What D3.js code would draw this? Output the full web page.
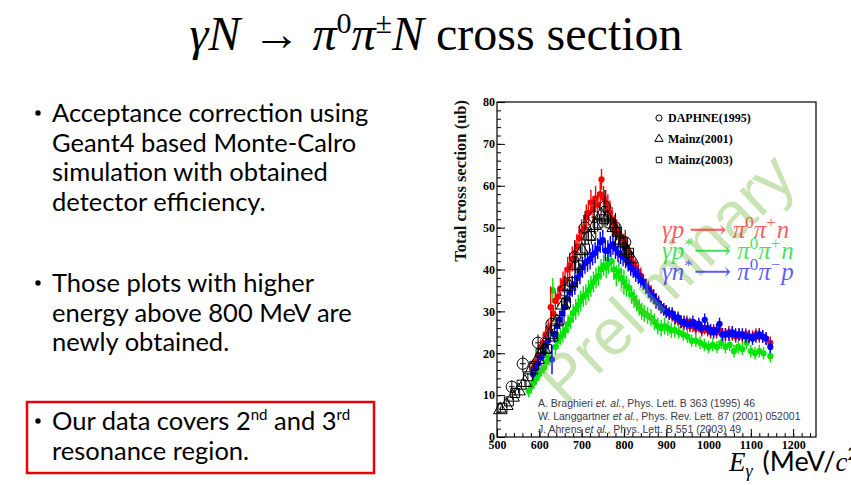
<!doctype html>
<html lang="en">
<head>
<meta charset="utf-8">
<title>cross section</title>
<script src="https://d3js.org/d3.v7.min.js"></script>
<style>
  body { margin: 0; background: #fff; }
  svg { display: block; }
</style>
</head>
<body>
<svg id="slide" width="851" height="485"></svg>
<script>
// [E (MeV), sigma (ub), error]
var redPts = [[586,16.5,1.5],[591,18,1.5],[597,19.5,1.5],[603,21.5,1.8],[609,22.5,1.8],[615,24.5,2],[621,26,2],[627,31,5],[633,29.5,2],[638,32.5,2.2],[644,33.5,2.2],[650,35.5,2.5],[656,37,2.5],[661,37.5,3],[667,40,3],[672,41,3],[678,42.5,3],[684,44,3],[689,45.5,3],[694,47.5,3],[700,49,3],[705,50,3],[711,52.5,3],[716,53.5,3],[722,56,3],[727,54.5,3],[733,57,3],[738,55.5,3],[744,58,3],[747,61.5,2.5],[752,57,3],[757,56,3],[762,55,3],[767,53.5,3],[772,52,3],[778,50.5,2.5],[783,49.5,2.5],[789,48.5,2.5],[794,47.5,2.5],[800,46,2.5],[806,45,2.5],[811,44,2],[817,42.5,2],[822,41.5,2],[828,40.5,2],[834,39.5,2],[840,38.5,2],[846,37,1.8],[852,36,1.8],[858,35.5,1.8],[864,34.5,1.8],[870,33.5,1.8],[876,32.5,1.8],[882,32,1.8],[888,31,1.5],[894,30.5,1.5],[900,30,1.5],[907,29.5,1.5],[914,29,1.5],[921,28.5,1.5],[928,28,1.5],[935,27.5,1.5],[942,27,1.5],[949,27.5,1.5],[956,26.5,1.5],[963,26.5,1.5],[970,26,1.5],[977,26.5,1.5],[984,25.5,1.5],[991,26,1.5],[998,25.5,1.5],[1005,25,1.5],[1012,25.5,1.5],[1019,25,1.5],[1026,25.5,1.5],[1033,24.5,1.5],[1040,24.5,1.5],[1048,25,1.5],[1056,24.5,1.5],[1064,24,1.5],[1072,24.5,1.5],[1080,24,1.5],[1088,24.5,1.5],[1096,24,1.5],[1104,24,1.5],[1112,24.5,1.5],[1120,24,1.5],[1128,24,1.5],[1136,23.5,1.5],[1146,22.5,1.5]];

var bluePts = [[585,15,1.5],[591,16.5,1.5],[597,17.5,1.5],[603,19,1.8],[609,20,1.8],[615,22,2],[621,23,2],[630,18.5,3.5],[636,24.5,2],[642,26.5,2],[648,28,2.2],[654,29.5,2.2],[660,31,2.2],[666,33,2.5],[672,34.5,2.5],[678,36,2.5],[684,36.5,2.5],[690,38,2.5],[696,39,2.5],[702,40.5,2.5],[708,41.5,2.5],[714,42,2.5],[720,42.5,2.5],[726,43.5,2.5],[732,44,2.5],[738,45,2.5],[744,46.5,2.5],[750,47,2.5],[756,44.5,2.5],[762,44.5,2.5],[768,45.5,2.5],[774,46,2.5],[780,45,2.5],[786,44,2.2],[792,43.5,2.2],[798,43,2.2],[804,42.5,2.2],[810,41.5,2],[816,40.5,2],[822,40,2],[828,39,2],[834,38.5,2],[840,37.5,1.8],[846,37,1.8],[852,36,1.8],[858,35,1.8],[864,34,1.8],[870,33.5,1.8],[876,32.5,1.8],[882,32,1.5],[888,31,1.5],[894,30.5,1.5],[900,30,1.5],[907,29.5,1.5],[914,29.5,1.5],[921,28.5,1.5],[928,28.5,1.5],[935,27.5,1.5],[942,27.5,1.5],[949,27,1.5],[956,27,1.5],[963,27.5,1.5],[970,26.5,1.5],[977,27,1.5],[984,26,1.5],[991,28,1.5],[998,26,1.5],[1005,25.5,1.5],[1012,25,1.5],[1019,25.5,1.5],[1026,27,1.5],[1033,24.5,1.5],[1040,24.5,1.5],[1048,24.5,1.5],[1056,25,1.5],[1064,24.5,1.5],[1072,24.5,1.5],[1080,24.5,1.5],[1088,24,1.5],[1096,24,1.5],[1104,23.5,1.5],[1112,24,1.5],[1120,24.5,1.5],[1128,24,1.5],[1136,23.5,1.5],[1146,21.5,1.5]];

var greenPts = [[575,11,1.5],[581,12,1.5],[587,13,1.5],[593,14,1.5],[599,15,1.5],[605,16,1.5],[611,16.5,1.5],[617,18,1.8],[623,19,1.8],[632,35,3],[638,21.5,2],[644,23,2],[650,24,2],[656,24.5,2],[662,25.5,2],[668,27,2.2],[674,28,2.2],[680,29.5,2.2],[686,30.5,2.5],[692,31.5,2.5],[698,32.5,2.5],[704,33.5,2.5],[710,34,2.5],[716,35,2.5],[722,36,2.5],[728,37,2.5],[734,38,2.5],[740,38.5,2.5],[746,40,2.5],[752,41,2.5],[758,40.5,2.5],[764,41.5,2.5],[770,42,2.5],[776,40,2.5],[782,38.5,2.5],[788,39.5,2.5],[794,38,2.5],[800,37,3],[806,36,2.5],[812,35.5,2.2],[818,34,2.2],[824,33,2.2],[830,32,2],[836,31,2],[842,30,2],[848,29.5,2],[856,29,2],[864,28.5,2],[872,27.5,2],[880,26.5,2],[888,26,2],[896,26.5,2],[904,26,1.8],[912,25.5,1.8],[920,25.5,1.8],[930,25,1.5],[940,24.5,1.5],[950,24,1.5],[960,23,1.5],[970,23,1.5],[980,22.5,1.5],[990,22,1.5],[1000,21.5,1.5],[1010,22,1.5],[1020,21.5,1.5],[1030,22.5,1.5],[1040,21.5,1.5],[1050,22,1.5],[1060,20.5,1.5],[1070,21.5,1.5],[1080,21,1.5],[1090,22.5,1.5],[1100,20.5,1.5],[1110,20,1.5],[1120,20.5,1.5],[1130,20,1.5],[1146,19.3,1.5]];

var daphnePts = [[535,12,1.5],[561,17.5,2],[597,22.5,2],[629,27,3],[660,35,3.5],[684,43,4],[708,50,4],[730,52.5,4],[755,55,4],[780,50,3.5],[803,46.5,3]];
var mainz01Pts = [[508,6.5,0.5],[522,7.5,0.5],[537,9.5,0.6],[551,11,0.6],[566,13,0.8],[581,16,0.8],[596,18.5,1],[611,21,1],[626,24.5,1.2],[641,27.5,1.2],[656,31.5,1.5],[671,36,1.5],[686,41,2],[701,44.5,2],[716,48,2],[731,50.5,2],[746,53,2],[761,52.5,2],[776,50,2],[791,47,2],[806,44.5,2],[818,42.5,2]];
var mainz03Pts = [[513,7,0.5],[528,8.5,0.5],[543,10.5,0.6],[558,12.5,0.7],[573,14.5,0.8],[588,17,0.8],[603,20,1],[618,21,1],[633,24,1],[648,28,1.2],[663,32,1.5],[678,37,1.5],[693,41,1.8],[708,45,2],[723,48,2],[738,51,2],[753,52,2],[768,51,2],[783,49,2],[798,46.5,2],[812,44,2]];

var xTicks = [500,600,700,800,900,1000,1100,1200];
var yTicks = [0,10,20,30,40,50,60,70,80];
var legendNames = ["DAPHNE(1995)", "Mainz(2001)", "Mainz(2003)"];
var refs = [
  ["A. Braghieri ", "et. al.", ", Phys. Lett. B 363 (1995) 46"],
  ["W. Langgartner ", "et al.", ", Phys. Rev. Lett. 87 (2001) 052001"],
  ["J. Ahrens ", "et al.", ", Phys. Lett. B 551 (2003) 49"]
];

var svg = d3.select("#slide");

// ---- title ----
var title = svg.append("text").attr("x", 436).attr("y", 50).attr("text-anchor", "middle")
  .style("font-family", "Liberation Serif, serif").style("font-size", "48px").attr("fill", "#000");
title.append("tspan").style("font-style", "italic").text("γN");
title.append("tspan").text(" → ");
title.append("tspan").style("font-style", "italic").text("π");
title.append("tspan").attr("dy", -17).style("font-size", "30px").text("0");
title.append("tspan").attr("dy", 17).style("font-style", "italic").text("π");
title.append("tspan").attr("dy", -17).style("font-size", "30px").text("±");
title.append("tspan").attr("dy", 17).style("font-style", "italic").text("N");
title.append("tspan").text(" cross section");

// ---- bullets ----
var bFont = "25.5px";
var bullets = [
  {y: 122, lines: ["Acceptance correction using", "Geant4 based Monte-Calro", "simulation with obtained", "detector efficiency."]},
  {y: 292, lines: ["Those plots with higher", "energy above 800 MeV are", "newly obtained."]}
];
bullets.forEach(function(b) {
  svg.append("circle").attr("cx", 38).attr("cy", b.y - 9).attr("r", 2.7).attr("fill", "#000");
  b.lines.forEach(function(l, i) {
    svg.append("text").attr("x", 52).attr("y", b.y + i * 29.5)
      .style("font-family", "Lato, sans-serif").style("font-size", bFont).attr("fill", "#000").text(l);
  });
});
svg.append("circle").attr("cx", 38).attr("cy", 421).attr("r", 2.7).attr("fill", "#000");
var t3 = svg.append("text").attr("x", 52).attr("y", 430)
  .style("font-family", "Lato, sans-serif").style("font-size", bFont).attr("fill", "#000");
t3.append("tspan").text("Our data covers 2");
t3.append("tspan").attr("dy", -10).style("font-size", "15px").text("nd");
t3.append("tspan").attr("dy", 10).text(" and 3");
t3.append("tspan").attr("dy", -10).style("font-size", "15px").text("rd");
svg.append("text").attr("x", 52).attr("y", 460)
  .style("font-family", "Lato, sans-serif").style("font-size", bFont).attr("fill", "#000").text("resonance region.");
svg.append("rect").attr("x", 27).attr("y", 402).attr("width", 347).attr("height", 71)
  .attr("fill", "none").attr("stroke", "#e8000b").attr("stroke-width", 2.5);

// ---- chart ----
var x = d3.scaleLinear().domain([500, 1254]).range([497, 816]);
var y = d3.scaleLinear().domain([0, 80]).range([437, 102]);

var chart = svg.append("g");
chart.append("rect").attr("x", x(500)).attr("y", y(80)).attr("width", x(1254) - x(500)).attr("height", y(0) - y(80))
  .attr("fill", "#fff").attr("stroke", "#000").attr("stroke-width", 1.2);

var tickFont = function(g) {
  g.select(".domain").remove();
  g.selectAll("text").style("font-family", "Liberation Serif, serif").style("font-weight", "bold").style("font-size", "12px").attr("fill", "#000");
  g.selectAll("line").attr("stroke", "#000");
};
chart.append("g").attr("transform", "translate(" + x(500) + ",0)")
  .call(d3.axisLeft(y).tickValues(yTicks).tickSize(-8).tickPadding(2).tickFormat(d3.format("d"))).call(tickFont);
chart.append("g").attr("transform", "translate(" + x(500) + ",0)")
  .call(d3.axisLeft(y).tickValues(d3.range(0, 81, 2)).tickSize(-4).tickFormat("")).call(tickFont);
chart.append("g").attr("transform", "translate(0," + y(0) + ")")
  .call(d3.axisBottom(x).tickValues(xTicks).tickSize(-8).tickPadding(3).tickFormat(d3.format("d"))).call(tickFont);
chart.append("g").attr("transform", "translate(0," + y(0) + ")")
  .call(d3.axisBottom(x).tickValues(d3.range(500, 1254, 20)).tickSize(-4).tickFormat("")).call(tickFont);

chart.append("text").attr("transform", "translate(466,100) rotate(-90)").attr("text-anchor", "end")
  .style("font-family", "Liberation Serif, serif").style("font-size", "16.5px").style("font-weight", "bold").attr("fill", "#111")
  .text("Total cross section (ub)");

// measured points with error bars
function drawSeries(pts, color) {
  var g = chart.append("g");
  g.selectAll("line").data(pts).enter().append("line")
    .attr("x1", function(d) { return x(d[0]); }).attr("x2", function(d) { return x(d[0]); })
    .attr("y1", function(d) { return y(d[1] - d[2]); }).attr("y2", function(d) { return y(d[1] + d[2]); })
    .attr("stroke", color).attr("stroke-width", 1.4);
  g.selectAll("circle").data(pts).enter().append("circle")
    .attr("cx", function(d) { return x(d[0]); }).attr("cy", function(d) { return y(d[1]); })
    .attr("r", 3.1).attr("fill", color);
}
drawSeries(greenPts, "#00e600");
drawSeries(redPts, "#ff0000");
drawSeries(bluePts, "#0000ff");

// reference data (open symbols)
function drawRef(pts, shape, size, xerr) {
  var g = chart.append("g");
  g.selectAll("line.v").data(pts).enter().append("line").attr("class", "v")
    .attr("x1", function(d) { return x(d[0]); }).attr("x2", function(d) { return x(d[0]); })
    .attr("y1", function(d) { return y(d[1] - d[2]); }).attr("y2", function(d) { return y(d[1] + d[2]); })
    .attr("stroke", "#000").attr("stroke-width", 1);
  if (xerr) {
    g.selectAll("line.h").data(pts).enter().append("line").attr("class", "h")
      .attr("x1", function(d) { return x(d[0] - xerr); }).attr("x2", function(d) { return x(d[0] + xerr); })
      .attr("y1", function(d) { return y(d[1]); }).attr("y2", function(d) { return y(d[1]); })
      .attr("stroke", "#000").attr("stroke-width", 1);
  }
  g.selectAll("path").data(pts).enter().append("path")
    .attr("transform", function(d) { return "translate(" + x(d[0]) + "," + y(d[1]) + ")"; })
    .attr("d", d3.symbol().type(shape).size(size))
    .attr("fill", "none").attr("stroke", "#000").attr("stroke-width", 1);
}
drawRef(mainz03Pts, d3.symbolSquare, 80);
drawRef(mainz01Pts, d3.symbolTriangle, 80);
drawRef(daphnePts, d3.symbolCircle, 100, 7);

// legend
var legShapes = [d3.symbolCircle, d3.symbolTriangle, d3.symbolSquare];
legendNames.forEach(function(n, i) {
  var ly = 118 + i * 21;
  chart.append("path").attr("transform", "translate(659," + ly + ")")
    .attr("d", d3.symbol().type(legShapes[i]).size(30)).attr("fill", "none").attr("stroke", "#000");
  chart.append("text").attr("x", 668).attr("y", ly + 4)
    .style("font-family", "Liberation Serif, serif").style("font-weight", "bold").style("font-size", "12px").attr("fill", "#000").text(n);
});

// watermark
chart.append("text").attr("transform", "translate(682,294) rotate(-44)").attr("text-anchor", "middle")
  .style("font-family", "Liberation Sans, sans-serif").style("font-size", "65px")
  .attr("fill", "rgb(120,190,70)").attr("opacity", 0.4).text("Preliminary");

// reaction labels
var reactions = [
  {c: "rgba(255,40,40,0.75)", y: 238, a: "γp", b: "n", s: "+", star: false},
  {c: "rgba(0,220,40,0.75)", y: 259, a: "γp", b: "n", s: "+", star: true},
  {c: "rgba(40,40,255,0.75)", y: 280, a: "γn", b: "p", s: "−", star: true}
];
reactions.forEach(function(r) {
  var t = chart.append("text").attr("x", 662).attr("y", r.y)
    .style("font-family", "Liberation Serif, serif").style("font-size", "25px").attr("fill", r.c);
  t.append("tspan").style("font-style", "italic").text(r.a);
  if (r.star) {
    t.append("tspan").attr("dy", -9).style("font-size", "17px").text("*");
    t.append("tspan").attr("dy", 9).attr("dx", 1).style("font-family", "DejaVu Serif, serif").style("font-size", "26px").text("⟶");
  } else {
    t.append("tspan").attr("dx", 5).style("font-family", "DejaVu Serif, serif").style("font-size", "26px").text("⟶");
  }
  t.append("tspan").attr("dx", 6).style("font-style", "italic").text("π");
  t.append("tspan").attr("dy", -10).style("font-size", "17px").text("0");
  t.append("tspan").attr("dy", 10).style("font-style", "italic").text("π");
  t.append("tspan").attr("dy", -10).style("font-size", "17px").text(r.s);
  t.append("tspan").attr("dy", 10).attr("dx", 1).style("font-style", "italic").text(r.b);
});

// references
refs.forEach(function(r, i) {
  var t = chart.append("text").attr("x", 538).attr("y", 407 + i * 13)
    .style("font-family", "Liberation Sans, sans-serif").style("font-size", "10.5px").attr("fill", "#3a3a4a");
  t.append("tspan").text(r[0]);
  t.append("tspan").style("font-style", "italic").text(r[1]);
  t.append("tspan").text(r[2]);
});

// x title
var xt = svg.append("text").attr("x", 729).attr("y", 471).attr("fill", "#000").style("font-size", "27px");
xt.append("tspan").style("font-family", "Liberation Serif, serif").style("font-style", "italic").text("E");
xt.append("tspan").attr("dy", 6).style("font-family", "Liberation Serif, serif").style("font-style", "italic").style("font-size", "18px").text("γ");
xt.append("tspan").attr("dy", -6).attr("dx", 10).style("font-family", "Lato, sans-serif").text("(MeV/");
xt.append("tspan").style("font-family", "Liberation Serif, serif").style("font-style", "italic").text("c");
xt.append("tspan").attr("dy", -11).style("font-family", "Lato, sans-serif").style("font-size", "18px").text("2");
</script>
</body>
</html>
